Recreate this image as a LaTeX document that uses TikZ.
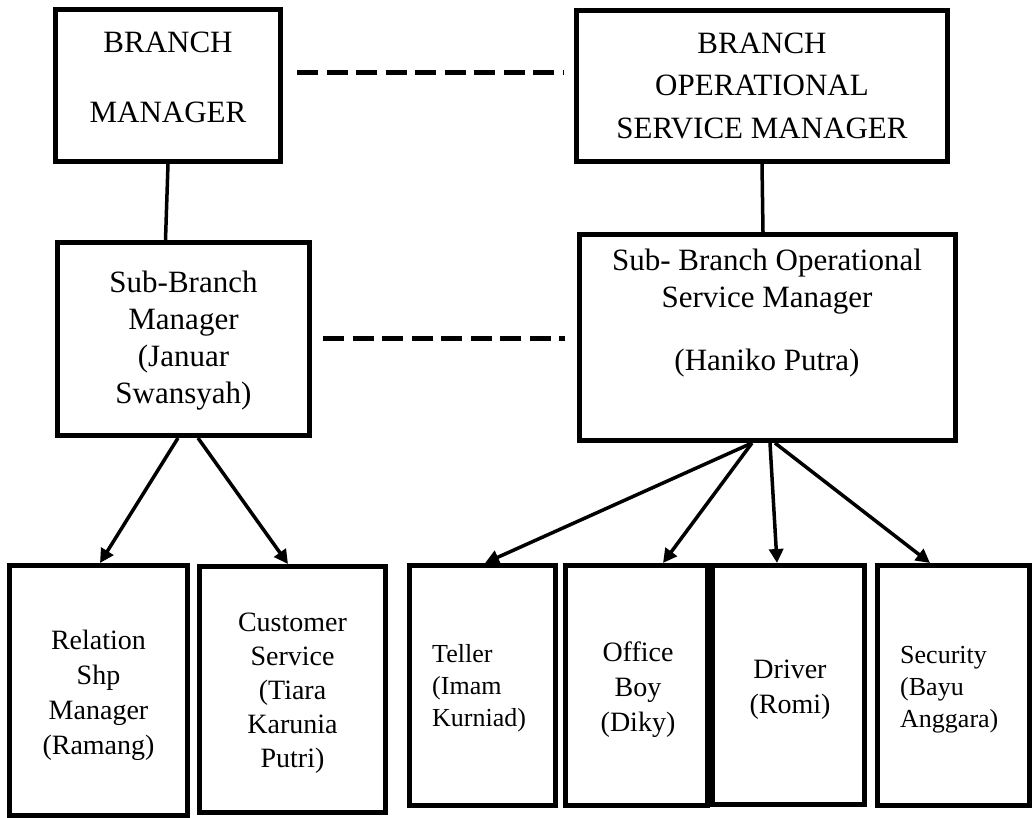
\documentclass[tikz,border=0pt]{standalone}
\usepackage{fontspec}
\setmainfont{Liberation Serif}
\usetikzlibrary{arrows.meta}
\begin{document}
\begin{tikzpicture}[x=1pt,y=-1pt,
  box/.style={draw=black,line width=5pt,rectangle,inner sep=0pt,fill=white},
  big/.style={font=\fontsize{31pt}{37pt}\selectfont,align=center,inner sep=0pt},
  small/.style={font=\fontsize{28pt}{35pt}\selectfont,align=center,inner sep=0pt},
  smaller/.style={font=\fontsize{26pt}{32pt}\selectfont,align=left,inner sep=0pt,anchor=west},
  link/.style={line width=3.5pt},
  arr/.style={line width=3.5pt,-{Triangle[length=14pt,width=14pt]}},
  dashline/.style={line width=5pt,dash pattern=on 21pt off 8.5pt}]
\useasboundingbox[fill=white] (0,0) rectangle (1033,817);
% boxes
\node[box,minimum width=225pt,minimum height=152pt] (bm) at (168,85.5) {};
\node[box,minimum width=371pt,minimum height=151pt] (bosm) at (762,86) {};
\node[box,minimum width=252pt,minimum height=193pt] (sbm) at (183.5,339) {};
\node[box,minimum width=376pt,minimum height=206pt] (sbosm) at (767.5,337.5) {};
\node[box,minimum width=178pt,minimum height=250pt] (rel) at (98.5,690.5) {};
\node[box,minimum width=186pt,minimum height=246pt] (cs) at (292.5,689.5) {};
\node[box,minimum width=146pt,minimum height=240pt] (tel) at (482.5,685.5) {};
\node[box,minimum width=142pt,minimum height=240pt] (ob) at (636.5,685.5) {};
\node[box,minimum width=152pt,minimum height=239pt] (drv) at (788.5,685) {};
\node[box,minimum width=152pt,minimum height=240pt] (sec) at (953.5,685.5) {};
% texts
\node[big,font=\fontsize{31pt}{70pt}\selectfont] (bmT) at (168,77) {BRANCH\\MANAGER};
\node[big,font=\fontsize{31pt}{42.5pt}\selectfont] (bosmT) at (762,85.5) {BRANCH\\OPERATIONAL\\SERVICE MANAGER};
\node[big] (sbmT) at (183.5,341) {Sub-Branch\\Manager\\(Januar\\Swansyah)};
\node[big] (sbosmT) at (767,313) {Sub- Branch Operational\\Service Manager\hspace*{18pt}\\[26pt](Haniko Putra)};
\node[small] (relT) at (98.5,695) {Relation\\Shp\\Manager\\(Ramang)};
\node[small,font=\fontsize{28pt}{34pt}\selectfont] (csT) at (292.5,693.5) {Customer\\Service\\(Tiara\\Karunia\\Putri)};
\node[smaller] (telT) at (432,688.5) {Teller\\(Imam\\Kurniad)};
\node[small] (obT) at (638,690) {Office\\Boy\\(Diky)};
\node[small] (drvT) at (790,689.5) {Driver\\(Romi)};
\node[smaller] (secT) at (900,689.5) {Security\\(Bayu\\Anggara)};
% solid links
\draw[link] (bm.south) -- ([xshift=-18pt]sbm.north);
\draw[link] (bosm.south) -- ([xshift=-4.5pt]sbosm.north);
% dashed links
\draw[dashline] ([xshift=14pt,yshift=13.5pt]bm.east) -- ([xshift=-11pt,yshift=14pt]bosm.west);
\draw[dashline] ([xshift=11pt,yshift=1pt]sbm.east) -- ([xshift=-12pt,yshift=-0.5pt]sbosm.west);
% arrows
\draw[arr] ([xshift=-5.5pt]sbm.south) -- ([xshift=1.5pt]rel.north);
\draw[arr] ([xshift=14.5pt]sbm.south) -- ([xshift=-4.5pt]cs.north);
\draw[arr] ([xshift=-15.5pt]sbosm.south) -- ([xshift=2.5pt]tel.north);
\draw[arr] ([xshift=-15.5pt]sbosm.south) -- ([xshift=26.5pt]ob.north);
\draw[arr] ([xshift=2.5pt]sbosm.south) -- ([xshift=-11.5pt]drv.north);
\draw[arr] ([xshift=7.5pt]sbosm.south) -- ([xshift=-23.5pt]sec.north);
\end{tikzpicture}
\end{document}
